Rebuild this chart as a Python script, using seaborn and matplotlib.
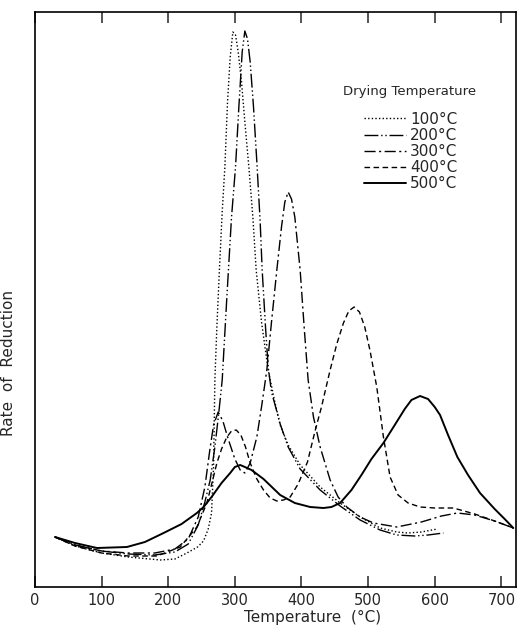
import matplotlib
matplotlib.use("Agg")
import matplotlib.pyplot as plt
from matplotlib.lines import Line2D
import seaborn as sns
import pandas as pd

# Reduction rate profiles (arbitrary units) vs. temperature for five drying temperatures
temp_100 = [30, 60, 100, 140, 188, 210, 228, 244, 253, 260, 265, 268, 270, 273, 277, 281, 285,
            289, 293, 297, 301, 305, 310, 315, 321, 327, 332, 340, 350, 360, 368, 380, 398,
            428, 458, 488, 518, 543, 560, 580, 604]
rate_100 = [50, 41, 34, 30, 27, 28, 34, 40, 46, 58, 74, 120, 207, 260, 320, 375, 420,
            485, 530, 555, 552, 535, 505, 465, 420, 370, 317, 265, 217, 185, 162, 142, 122,
            100, 84, 70, 59, 55, 54, 55, 58]

temp_200 = [30, 60, 100, 140, 180, 210, 230, 245, 255, 263, 270, 276, 281, 288, 295, 301, 306,
            311, 315, 319, 323, 328, 333, 338, 341, 346, 350, 355, 362, 368, 380, 398, 428,
            458, 488, 518, 543, 570, 590, 613]
rate_200 = [50, 42, 36, 33, 32, 35, 43, 62, 85, 107, 140, 175, 207, 290, 370, 420, 480,
            535, 556, 548, 525, 480, 425, 365, 317, 260, 220, 195, 178, 163, 140, 118, 97,
            81, 67, 57, 52, 51, 52, 54]

temp_300 = [30, 60, 100, 140, 180, 210, 230, 245, 255, 262, 268, 275, 282, 290, 300, 308, 315,
            323, 333, 340, 348, 355, 363, 370, 375, 380, 385, 390, 398, 404, 410, 418, 428,
            443, 455, 468, 488, 508, 543, 580, 610, 634, 660, 690, 718]
rate_300 = [50, 42, 36, 34, 34, 38, 48, 70, 100, 135, 162, 175, 166, 148, 128, 117, 114,
            124, 150, 180, 217, 265, 317, 360, 385, 395, 388, 370, 317, 260, 207, 170, 140,
            107, 90, 80, 70, 64, 60, 65, 71, 74, 72, 66, 59]

temp_400 = [30, 60, 100, 140, 183, 218, 243, 258, 266, 273, 280, 288, 295, 302, 309, 316, 323,
            333, 343, 353, 363, 373, 383, 395, 409, 420, 430, 443, 453, 463, 471, 479, 487,
            495, 503, 513, 518, 523, 533, 545, 560, 578, 600, 628, 660, 690, 718]
rate_400 = [50, 41, 34, 31, 31, 40, 60, 84, 105, 124, 138, 150, 156, 157, 152, 140, 124,
            108, 97, 89, 86, 87, 90, 103, 125, 155, 180, 217, 243, 264, 276, 280, 275,
            260, 236, 200, 175, 150, 110, 92, 84, 80, 79, 79, 73, 66, 59]

temp_500 = [30, 60, 93, 138, 165, 193, 220, 243, 253, 265, 280, 293, 300, 308, 315, 325, 343,
            368, 390, 413, 433, 445, 458, 475, 490, 505, 523, 540, 555, 565, 578, 590, 600,
            608, 620, 634, 650, 668, 690, 705, 718]
rate_500 = [50, 44, 39, 40, 45, 54, 63, 74, 80, 90, 104, 114, 120, 122, 120, 117, 108,
            92, 84, 80, 79, 80, 84, 97, 112, 128, 144, 162, 178, 187, 191, 188, 180,
            172, 152, 130, 112, 94, 78, 68, 59]

series_labels = ["100°C", "200°C", "300°C", "400°C", "500°C"]
legend_title = "Drying Temperature"
x_ticks = [0, 100, 200, 300, 400, 500, 600, 700]

series = [(temp_100, rate_100), (temp_200, rate_200), (temp_300, rate_300),
          (temp_400, rate_400), (temp_500, rate_500)]
line_styles = [(0, (1, 1.6)),
               (0, (10, 2, 1, 2, 1, 2)),
               (0, (8, 2.5, 1.5, 2.5)),
               (0, (4, 2.5)),
               "-"]
line_widths = [1.0, 1.0, 1.0, 1.0, 1.4]

sns.set_style("ticks")
plt.rcParams["font.family"] = ["DejaVu Sans"]

fig = plt.figure(figsize=(5.19, 6.35), dpi=100)
ax = fig.add_axes([35 / 519, 1 - 587 / 635, (516 - 35) / 519, (587 - 12) / 635])

handles = []
for (t, r), lab, ls, lw in zip(series, series_labels, line_styles, line_widths):
    df = pd.DataFrame({"Temperature": t, "Rate": r})
    sns.lineplot(data=df, x="Temperature", y="Rate", ax=ax, color="black",
                 estimator=None, sort=False, linewidth=lw, linestyle=ls)
    handles.append(Line2D([], [], color="black", linestyle=ls, linewidth=lw))

ax.set_xlim(0, 722)
ax.set_ylim(0, 575)
ax.set_xticks(x_ticks)
ax.set_xticklabels([str(v) for v in x_ticks], fontsize=10.5)
ax.set_yticks([])
ax.tick_params(axis="x", direction="in", length=8, width=1.1, top=True, pad=4)

for s in ax.spines.values():
    s.set_color("black")
    s.set_linewidth(1.2)

ax.set_xlabel("Temperature  (°C)", fontsize=11)
ax.xaxis.set_label_coords((313 - 35) / 481, -0.04)
ax.set_ylabel("Rate  of  Reduction", fontsize=11)
ax.yaxis.set_label_coords(-0.04, 0.39)

# legend: heading as its own text, entries stacked tightly beneath it
ax.text(0.64, 0.861, legend_title, transform=ax.transAxes, fontsize=9.5,
        ha="left", va="center")
ax.legend(handles, series_labels, frameon=False, fontsize=11, handlelength=2.7,
          handletextpad=0.3, labelspacing=0.07, loc="upper left",
          bbox_to_anchor=(0.672, 0.837), borderaxespad=0)

fig.savefig("out.png", dpi=100)
